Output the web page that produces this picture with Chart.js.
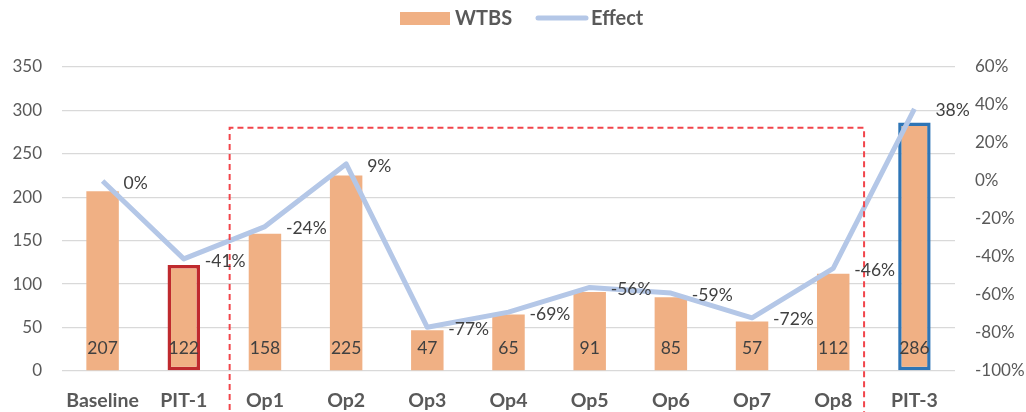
<!DOCTYPE html>
<html><head><meta charset="utf-8">
<script src="https://cdn.jsdelivr.net/npm/chart.js@4.4.1/dist/chart.umd.min.js"></script>
<style>html,body{margin:0;padding:0;background:#fff}#wrap{width:1026px;height:412px}</style>
</head><body><div id="wrap"><canvas id="c" width="1026" height="412"></canvas></div>
<script>
const categories = ["Baseline","PIT-1","Op1","Op2","Op3","Op4","Op5","Op6","Op7","Op8","PIT-3"];
const wtbs = [207,122,158,225,47,65,91,85,57,112,286];
const effect = [0,-41,-24,9,-77,-69,-56,-59,-72,-46,38];
const leftTicks = [0,50,100,150,200,250,300,350];
const rightTicks = [-100,-80,-60,-40,-20,0,20,40,60];

const FONT = "Lato, 'Open Sans', sans-serif";
const barColor = "#F0B084";
const lineColor = "#B4C7E7";
const borderColors = categories.map(c => c === "PIT-1" ? "#BF2A2E" : (c === "PIT-3" ? "#2E75B6" : barColor));
const borderWidths = categories.map(c => (c === "PIT-1" || c === "PIT-3") ? 3.5 : 0);

const deco = {
  id: 'deco',
  afterDraw(chart) {
    const ctx = chart.ctx;
    const xs = chart.scales.x, ys = chart.scales.y, y1 = chart.scales.y1;
    ctx.save();
    // dashed box
    const step = xs.getPixelForValue(1) - xs.getPixelForValue(0);
    const l = xs.getPixelForValue(1) + 0.565 * step;
    const r = xs.getPixelForValue(9) + 0.38 * step;
    const t = ys.getPixelForValue(280);
    ctx.strokeStyle = "#F2454B";
    ctx.lineWidth = 2;
    ctx.setLineDash([6,4]);
    ctx.beginPath();
    ctx.moveTo(l, 430); ctx.lineTo(l, t); ctx.lineTo(r, t); ctx.lineTo(r, 430);
    ctx.stroke();
    ctx.setLineDash([]);
    // bar labels
    ctx.fillStyle = "#404040";
    ctx.font = "17.5px " + FONT;
    ctx.textAlign = "center"; ctx.textBaseline = "middle";
    const base = ys.getPixelForValue(0);
    wtbs.forEach((v,i) => ctx.fillText(String(v), xs.getPixelForValue(i), base - 23));
    // line labels
    ctx.textAlign = "left";
    effect.forEach((v,i) => {
      const x = xs.getPixelForValue(i), y = y1.getPixelForValue(v);
      ctx.fillText(v + "%", x + 21, y + 2);
    });
    // legend
    ctx.fillStyle = barColor;
    ctx.fillRect(400, 12, 50, 13);
    ctx.fillStyle = "#595959";
    ctx.font = "bold 20px " + FONT;
    ctx.fillText("WTBS", 455, 19);
    ctx.strokeStyle = lineColor; ctx.lineWidth = 5; ctx.lineCap = "round";
    ctx.beginPath(); ctx.moveTo(538, 18); ctx.lineTo(586, 18); ctx.stroke();
    ctx.fillText("Effect", 591, 19);
    ctx.restore();
  }
};

new Chart(document.getElementById('c'), {
  data: {
    labels: categories,
    datasets: [
      { type: 'line', label: 'Effect', data: effect, yAxisID: 'y1', borderColor: lineColor, borderWidth: 5,
        pointRadius: 0, tension: 0, order: 0, borderJoinStyle: 'round' },
      { type: 'bar', label: 'WTBS', data: wtbs, yAxisID: 'y', backgroundColor: barColor,
        borderColor: borderColors, borderWidth: borderWidths, borderSkipped: false,
        categoryPercentage: 1, barPercentage: 0.4, order: 1 }
    ]
  },
  options: {
    responsive: false, animation: false,
    layout: { padding: { top: 67, left: 0, right: 0, bottom: 0 } },
    plugins: { legend: { display: false }, tooltip: { enabled: false } },
    scales: {
      x: {
        grid: { display: false, drawTicks: false }, border: { display: false },
        ticks: { color: "#595959", font: { family: FONT, size: 19.5, weight: 'bold' }, padding: 18, maxRotation: 0, autoSkip: false },
        afterFit(s) { s.height = 41; }
      },
      y: {
        position: 'left', min: 0, max: 350,
        afterBuildTicks(s) { s.ticks = leftTicks.map(v => ({ value: v })); },
        grid: { color: "#D9D9D9", lineWidth: 1.3, drawTicks: false }, border: { display: false },
        ticks: { color: "#595959", font: { family: FONT, size: 17 }, padding: 20 },
        afterFit(s) { s.width = 62; }
      },
      y1: {
        position: 'right', min: -100, max: 60,
        afterBuildTicks(s) { s.ticks = rightTicks.map(v => ({ value: v })); },
        grid: { drawOnChartArea: false, drawTicks: false }, border: { display: false },
        ticks: { color: "#595959", font: { family: FONT, size: 17 }, padding: 20, callback: v => v + "%" },
        afterFit(s) { s.width = 71; }
      }
    }
  },
  plugins: [deco]
});
</script></body></html>
